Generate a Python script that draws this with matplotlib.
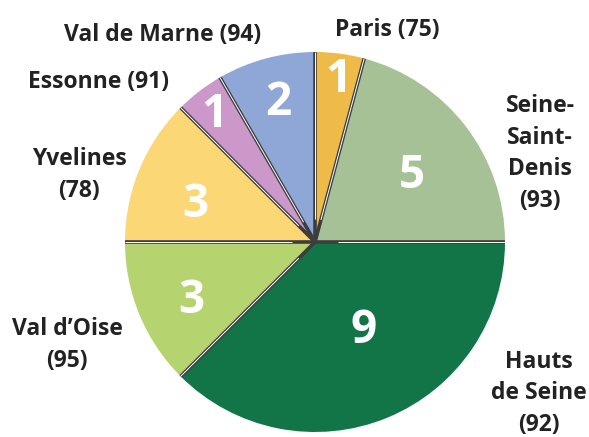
import numpy as np
import matplotlib
matplotlib.use("Agg")
import matplotlib.pyplot as plt

labels = ["Paris (75)", "Seine-\nSaint-\nDenis\n(93)", "Hauts\nde Seine\n(92)", "Val d\u2019Oise\n(95)",
          "Yvelines\n(78)", "Essonne (91)", "Val de Marne (94)"]
values = [1, 5, 9, 3, 3, 1, 2]
colors = ["#EFBB48", "#A7C196", "#127547", "#B5D46F", "#FCD776", "#CC97C9", "#8FA7D6"]

# layout only: label baselines (last line) and value-number baselines (pie radius = 1)
label_pos = [(0.379, 1.084), (1.184, 0.184), (1.179, -0.995), (-1.305, -0.658),
             (-1.242, 0.237), (-1.142, 0.811), (-0.80, 1.06)]
num_pos = [(0.121, 0.789), (0.511, 0.284), (0.258, -0.532), (-0.653, -0.374),
           (-0.632, 0.132), (-0.532, 0.605), (-0.195, 0.668)]

plt.rcParams['font.family'] = ['Open Sans', 'DejaVu Sans']

fig = plt.figure(figsize=(5.89, 4.37), dpi=100)
ax = fig.add_axes([0, 0, 1, 1])
r = 190.0

wedges, _ = ax.pie(values, colors=colors, startangle=90, counterclock=False,
                   radius=1.0, wedgeprops=dict(linewidth=0))
ax.set_xlim(-315 / r, (589 - 315) / r)
ax.set_ylim((242 - 437) / r, 242 / r)
ax.set_aspect('equal')
ax.axis('off')

total = sum(values)
cum = np.cumsum([0] + values)
angles = 90 - 360 * cum / total
for a in angles[:-1]:
    t = np.deg2rad(a)
    ax.plot([0, np.cos(t)], [0, np.sin(t)], color="#3d3d3d", lw=2.6, solid_capstyle='butt', zorder=3)
    ax.plot([0.12 * np.cos(t), np.cos(t)], [0.12 * np.sin(t), np.sin(t)], color="white", lw=0.7,
            solid_capstyle='butt', zorder=4)

for i, v in enumerate(values):
    nx, ny = num_pos[i]
    ax.text(nx, ny, str(v), color="white", fontsize=33, fontweight='bold',
            ha='center', va='baseline', zorder=5)
    x, y = label_pos[i]
    ax.text(x, y, labels[i], color="#222222", fontsize=16.5, fontweight='bold',
            ha='center', va='baseline', linespacing=1.43, zorder=5)

fig.savefig("out.png", dpi=100)
